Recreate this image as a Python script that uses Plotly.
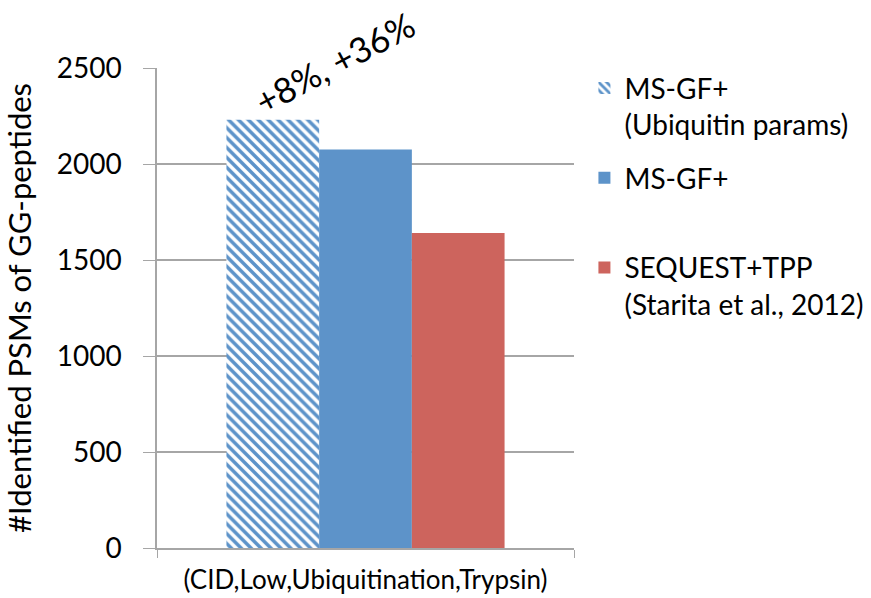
import plotly.graph_objects as go

category = ["(CID,Low,Ubiquitination,Trypsin)"]
series_names = ["MS-GF+<br>(Ubiquitin params)", "MS-GF+<br>&nbsp;", "SEQUEST+TPP<br>(Starita et al., 2012)"]
values_ubiq = [2230]
values_msgf = [2075]
values_sequest = [1640]
y_ticks = [0, 500, 1000, 1500, 2000, 2500]
annotation_text = "+8%, +36%"

BLUE = "#5d93c9"
RED = "#cd645d"
GRID = "#a6a6a6"
FONT = "Lato"

fig = go.Figure()
fig.add_trace(go.Bar(
    x=category, y=values_ubiq, name=series_names[0], legendgroup="a",
    marker=dict(color="white", line=dict(width=0),
                pattern=dict(shape="\\", fgcolor=BLUE, bgcolor="white", size=7, solidity=0.5, fillmode="replace")),
))
fig.add_trace(go.Bar(
    x=category, y=values_msgf, name=series_names[1], legendgroup="b",
    marker=dict(color=BLUE, line=dict(width=0)),
))
fig.add_trace(go.Bar(
    x=category, y=values_sequest, name=series_names[2], legendgroup="c",
    marker=dict(color=RED, line=dict(width=0)),
))

fig.add_annotation(
    x=category[0], y=values_ubiq[0], xref="x", yref="y",
    text=annotation_text, showarrow=False, textangle=-28,
    xshift=-31, yshift=58,
    font=dict(family=FONT, size=35, color="black"),
)

fig.update_layout(
    width=871, height=598,
    margin=dict(l=157, r=297, t=68, b=50, autoexpand=False),
    paper_bgcolor="white", plot_bgcolor="white",
    barmode="group", bargap=0.333, bargroupgap=0,
    font=dict(family=FONT, color="black"),
    showlegend=True,
    legend=dict(
        x=1.025, y=1.01, xanchor="left", yanchor="top",
        font=dict(family=FONT, size=28, color="black"),
        valign="top", tracegroupgap=14, traceorder="grouped",
        bgcolor="rgba(0,0,0,0)",
    ),
    xaxis=dict(
        automargin=False,
        showline=True, linecolor=GRID, linewidth=1.5,
        ticks="outside", tickson="boundaries", ticklen=8, tickcolor=GRID,
        tickfont=dict(family=FONT, size=26, color="black"),
        ticklabelstandoff=8,
        showgrid=False,
    ),
    yaxis=dict(
        automargin=False,
        range=[0, 2500], tickvals=y_ticks,
        showline=True, linecolor=GRID, linewidth=1.5,
        ticks="outside", ticklen=12, tickcolor=GRID,
        ticklabelstandoff=16,
        showgrid=True, gridcolor=GRID, gridwidth=1.5,
        tickfont=dict(family=FONT, size=28, color="black"),
        title=dict(text="#Identified PSMs of GG-peptides", font=dict(family=FONT, size=31, color="black"), standoff=18),
        zeroline=False,
    ),
)

fig.write_html("out.html")
